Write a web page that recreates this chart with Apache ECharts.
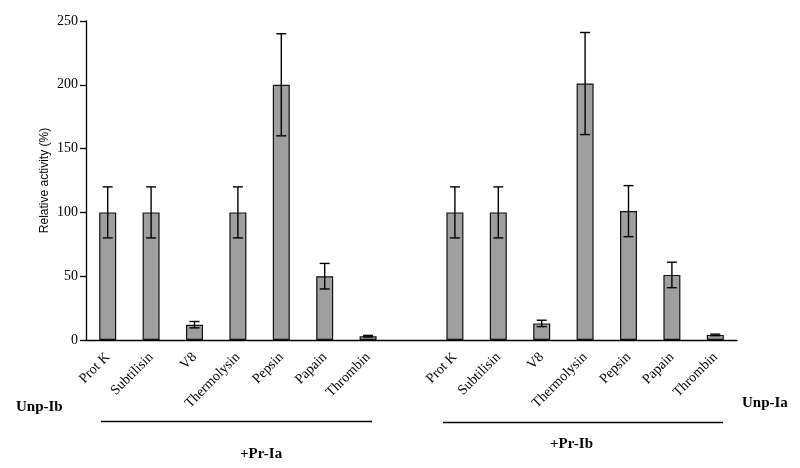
<!DOCTYPE html>
<html>
<head>
    <meta charset="utf-8">
    <title>Relative activity</title>
    <script src="https://cdn.jsdelivr.net/npm/echarts@6/dist/echarts.min.js"></script>
    <style>
        body { margin: 0; background: #fff; }
        #chart { width: 800px; height: 468px; }
    </style>
</head>
<body>
<div id="chart"></div>
<script>
    // 15 slots: 7 enzymes, an empty gap, 7 enzymes
    var categories = ['Prot K', 'Subtilisin', 'V8', 'Thermolysin', 'Pepsin', 'Papain', 'Thrombin', '',
        'Prot K', 'Subtilisin', 'V8', 'Thermolysin', 'Pepsin', 'Papain', 'Thrombin'];
    var activity = [100, 100, 12, 100, 200, 50, 3, null, 100, 100, 13, 201, 101, 51, 4];
    var errors = [20, 20, 2.5, 20, 40, 10, 0.6, null, 20, 20, 2.5, 40, 20, 10, 0.6];
    var yTicks = [0, 50, 100, 150, 200, 250];

    var errData = [];
    for (var i = 0; i < activity.length; i++) {
        if (activity[i] == null) continue;
        errData.push([i, activity[i] - errors[i], activity[i] + errors[i]]);
    }

    var serif = 'Liberation Serif';
    var myChart = echarts.init(document.getElementById('chart'));

    var option = {
        backgroundColor: '#fff',
        animation: false,
        grid: { left: 86, right: 63, top: 21, bottom: 128 },
        xAxis: {
            type: 'category',
            data: categories,
            boundaryGap: true,
            axisLine: { lineStyle: { color: '#000', width: 1.3 } },
            axisTick: { show: false },
            axisLabel: {
                interval: 0,
                rotate: 45,
                margin: 15,
                fontFamily: serif,
                fontSize: 14,
                color: '#000'
            }
        },
        yAxis: {
            type: 'value',
            min: yTicks[0],
            max: yTicks[yTicks.length - 1],
            interval: 50,
            name: 'Relative activity (%)',
            nameLocation: 'middle',
            nameGap: 35,
            nameMoveOverlap: false,
            nameTextStyle: { fontFamily: 'Liberation Sans', fontSize: 12, color: '#000' },
            axisLine: { show: true, lineStyle: { color: '#000', width: 1.3 } },
            axisTick: { show: true, inside: false, length: 6, lineStyle: { color: '#000', width: 1.3 } },
            axisLabel: { fontFamily: serif, fontSize: 14, color: '#000', margin: 8 },
            splitLine: { show: false }
        },
        series: [
            {
                type: 'bar',
                data: activity,
                barWidth: 17,
                itemStyle: {
                    color: '#9f9f9f',
                    borderColor: '#111',
                    borderWidth: 1.2
                }
            },
            {
                type: 'custom',
                data: errData,
                z: 5,
                renderItem: function (params, api) {
                    var x = api.value(0);
                    var lo = api.coord([x, api.value(1)]);
                    var hi = api.coord([x, api.value(2)]);
                    var cap = 5;
                    var style = { stroke: '#000', lineWidth: 1.4 };
                    return {
                        type: 'group',
                        children: [
                            { type: 'line', shape: { x1: hi[0], y1: hi[1], x2: lo[0], y2: lo[1] }, style: style },
                            { type: 'line', shape: { x1: hi[0] - cap, y1: hi[1], x2: hi[0] + cap, y2: hi[1] }, style: style },
                            { type: 'line', shape: { x1: lo[0] - cap, y1: lo[1], x2: lo[0] + cap, y2: lo[1] }, style: style }
                        ]
                    };
                }
            }
        ],
        graphic: [
            { type: 'line', shape: { x1: 101, y1: 421.5, x2: 372, y2: 421.5 }, style: { stroke: '#000', lineWidth: 1.4 } },
            { type: 'line', shape: { x1: 443, y1: 422.5, x2: 723, y2: 422.5 }, style: { stroke: '#000', lineWidth: 1.4 } },
            { type: 'text', left: 16, top: 400, style: { text: 'Unp-Ib', font: 'bold 15px "Liberation Serif"', fill: '#000' } },
            { type: 'text', left: 742, top: 396, style: { text: 'Unp-Ia', font: 'bold 15px "Liberation Serif"', fill: '#000' } },
            { type: 'text', left: 240, top: 447, style: { text: '+Pr-Ia', font: 'bold 15px "Liberation Serif"', fill: '#000' } },
            { type: 'text', left: 550, top: 437, style: { text: '+Pr-Ib', font: 'bold 15px "Liberation Serif"', fill: '#000' } }
        ]
    };

    myChart.setOption(option);
</script>
</body>
</html>
